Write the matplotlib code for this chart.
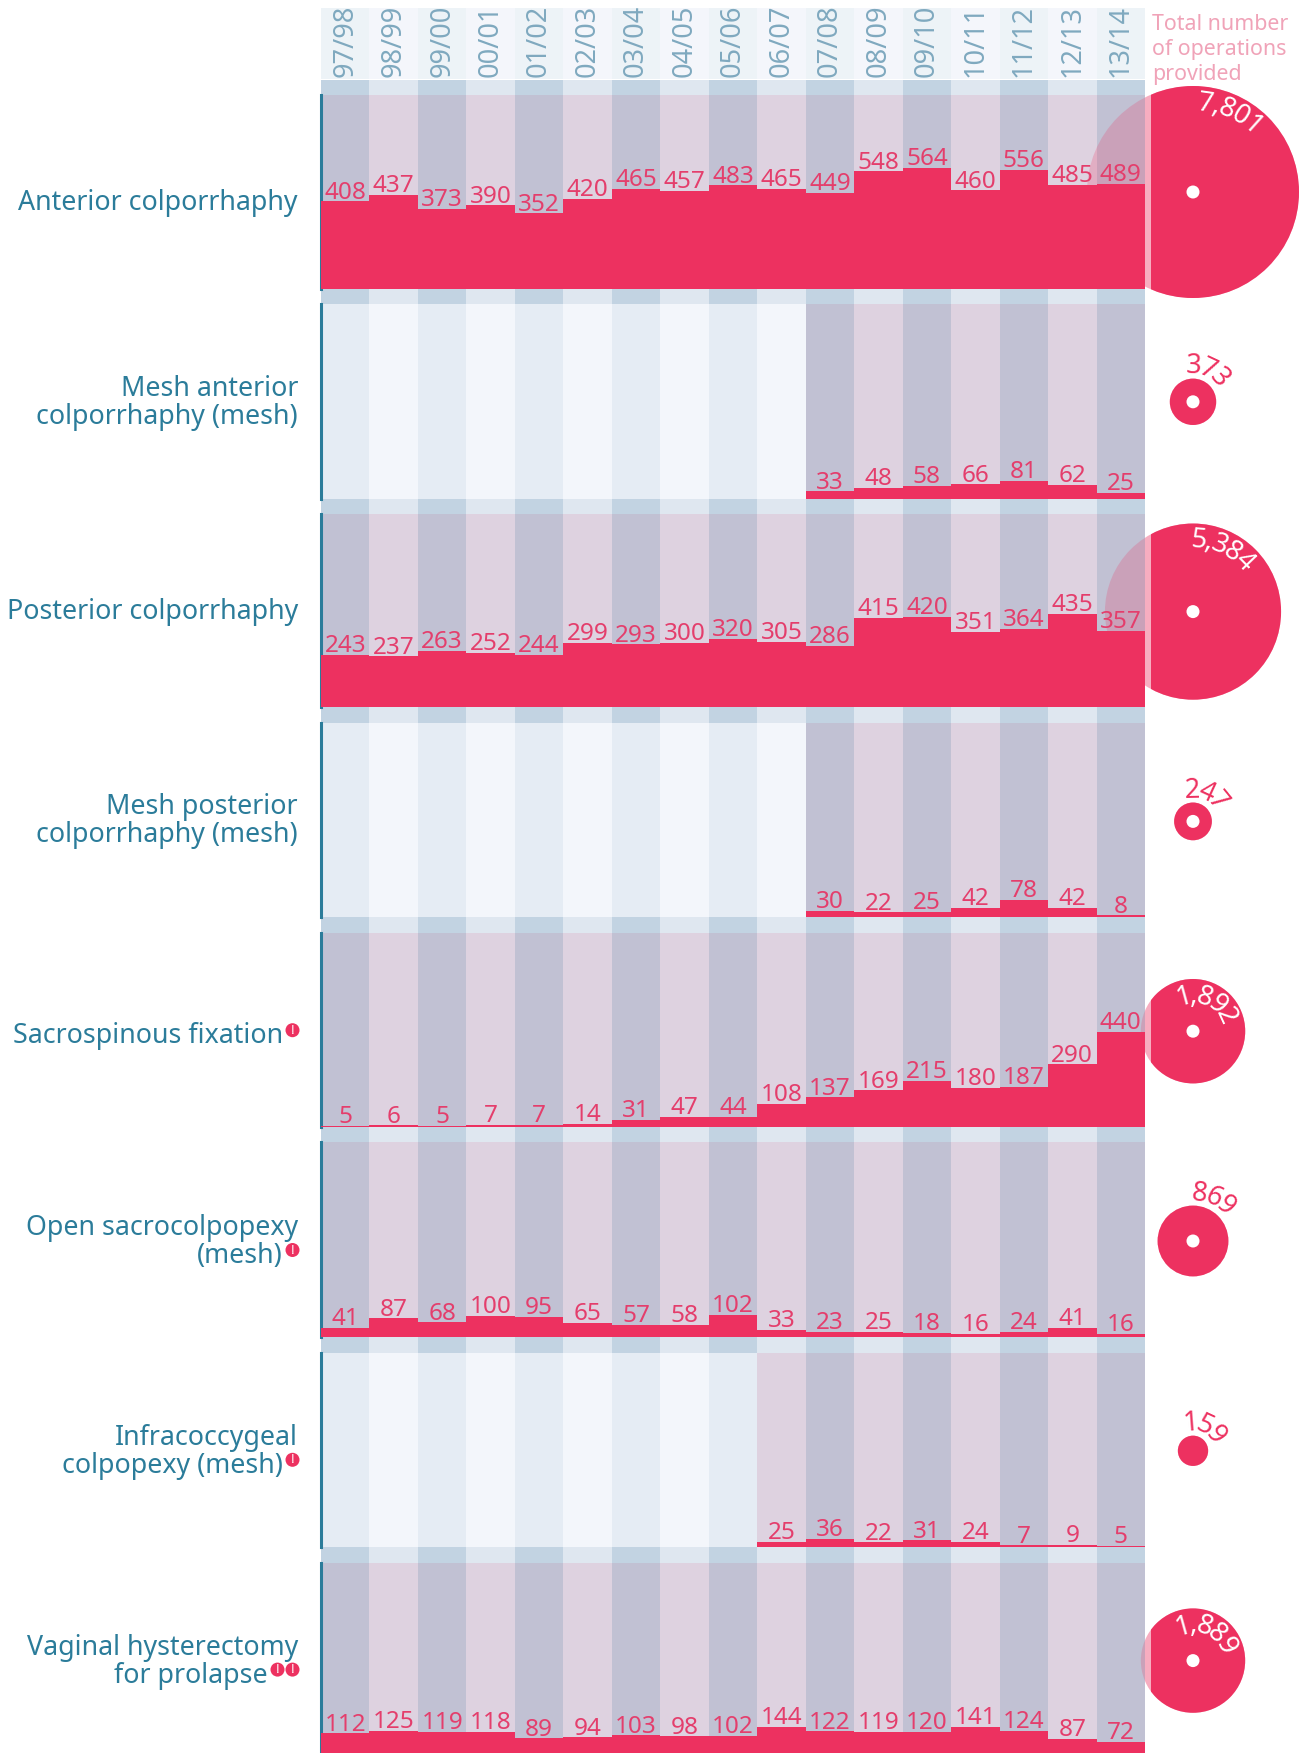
import math
import matplotlib
matplotlib.use("Agg")
import matplotlib.pyplot as plt
from matplotlib.font_manager import FontProperties
from matplotlib.patches import Circle, Rectangle

plt.rcParams['font.family'] = ['Noto Sans', 'DejaVu Sans']

years = ["97/98","98/99","99/00","00/01","01/02","02/03","03/04","04/05","05/06","06/07","07/08","08/09","09/10","10/11","11/12","12/13","13/14"]
names = ["Anterior colporrhaphy", "Mesh anterior\ncolporrhaphy (mesh)", "Posterior colporrhaphy",
         "Mesh posterior\ncolporrhaphy (mesh)", "Sacrospinous fixation", "Open sacrocolpopexy\n(mesh)",
         "Infracoccygeal\ncolpopexy (mesh)", "Vaginal hysterectomy\nfor prolapse"]
flags = [0, 0, 0, 0, 1, 1, 1, 2]
totals = [7801, 373, 5384, 247, 1892, 869, 159, 1889]
anterior = [408,437,373,390,352,420,465,457,483,465,449,548,564,460,556,485,489]
mesh_anterior = [None]*10 + [33,48,58,66,81,62,25]
posterior = [243,237,263,252,244,299,293,300,320,305,286,415,420,351,364,435,357]
mesh_posterior = [None]*10 + [30,22,25,42,78,42,8]
sacrospinous = [5,6,5,7,7,14,31,47,44,108,137,169,215,180,187,290,440]
open_sacro = [41,87,68,100,95,65,57,58,102,33,23,25,18,16,24,41,16]
infracoccygeal = [None]*9 + [25,36,22,31,24,7,9,5]
vaginal = [112,125,119,118,89,94,103,98,102,144,122,119,120,141,124,87,72]
series = [anterior, mesh_anterior, posterior, mesh_posterior, sacrospinous, open_sacro, infracoccygeal, vaginal]

W, H = 1306, 1753
L, R_ = 321, 1145
BASELINES = [289, 498.5, 707.3, 917, 1126.7, 1337, 1547, 1757.5]
BAND = 15.5
PX_PER_UNIT = 0.2146
RED, TEAL = '#ED3160', '#2B7C9A'
fig = plt.figure(figsize=(W/100, H/100), dpi=100, facecolor='white')

base = fig.add_axes([0, 0, 1, 1], zorder=0)
base.set_xlim(0, W); base.set_ylim(H, 0); base.axis('off')
top = fig.add_axes([0, 0, 1, 1], zorder=20)
top.set_xlim(0, W); top.set_ylim(H, 0); top.axis('off'); top.patch.set_alpha(0)
renderer = fig.canvas.get_renderer()

cw = (R_ - L) / 17
for i, y in enumerate(years):
    x0 = L + i*cw
    base.add_patch(Rectangle((x0, 8), cw, 71, fc='#EDF3F7' if i % 2 == 0 else '#F4F6FB', ec='none'))
    base.text(x0 + cw/2, 76.5, y, rotation=90, ha='center', va='bottom', color='#7FA9BF', fontsize=19.5)
for k, line in enumerate(["Total number", "of operations", "provided"]):
    base.text(1152, 29.5 + k*25.3, line, color='#F0A3B8', fontsize=15.4, va='baseline', ha='left')

label_offsets = [11, 1, 0, 0, 5, 1, 1, 1]
fs_total = 19.5
prop_total = FontProperties(family='Noto Sans', size=fs_total)

def adv(s):
    return renderer.get_text_width_height_descent(s, prop_total, False)[0] if s else 0

for p, vals in enumerate(series):
    pbot = BASELINES[p]
    ptop = 95 if p == 0 else BASELINES[p-1] + BAND
    bandtop = ptop - BAND
    for i in range(17):
        x0 = L + i*cw
        base.add_patch(Rectangle((x0, bandtop), cw, BAND, fc='#C2D3E2' if i % 2 == 0 else '#DFE7F0', ec='none'))
    ph = pbot - ptop
    ax = fig.add_axes([L/W, 1-pbot/H, (R_-L)/W, ph/H], zorder=5+p)
    ax.patch.set_alpha(0)
    ax.set_xlim(-0.5, 16.5); ax.set_ylim(0, ph/PX_PER_UNIT)
    ax.set_xticks([]); ax.set_yticks([])
    for s in ['top', 'right', 'bottom']:
        ax.spines[s].set_visible(False)
    ax.spines['left'].set_color(TEAL); ax.spines['left'].set_linewidth(2.2)
    for i, v in enumerate(vals):
        if v is None:
            c = '#E5ECF4' if i % 2 == 0 else '#F3F6FB'
        else:
            c = '#C1C1D3' if i % 2 == 0 else '#DED2E0'
        ax.axvspan(i-0.5, i+0.5, fc=c, ec='none', zorder=1)
    xs = [i for i, v in enumerate(vals) if v is not None]
    hs = [v for v in vals if v is not None]
    ax.bar(xs, hs, width=1.0, color=RED, zorder=3, linewidth=0)
    for x, v in zip(xs, hs):
        ax.annotate(str(v), (x, v), xytext=(0, 2), textcoords='offset points', ha='center', va='baseline',
                    color='#E43E6C', fontsize=17.5, zorder=5, annotation_clip=False)

    cy = 192 + p*209.8
    cx = 1193
    r = 106 * math.sqrt(totals[p] / totals[0])
    ax.add_patch(Circle((cx, cy), r, fc=RED, ec='none', alpha=0.22, transform=base.transData, zorder=2, clip_on=False))
    base.add_patch(Circle((cx, cy), r, fc=RED, ec='none', alpha=0.22, zorder=1))
    solid = Circle((cx, cy), r, fc=RED, ec='none', transform=top.transData)
    top.add_patch(solid)
    solid.set_clip_path(Rectangle((1151, 0), 200, H, transform=top.transData))
    if r > 16:
        top.add_patch(Circle((cx, cy), 6.5, fc='white', ec='none'))

    txt = f"{totals[p]:,}"
    if r > 45:
        tr, tcol = r - 24, 'white'
    else:
        tr, tcol = r + 5, RED
    total_w = adv(txt)
    for k, ch in enumerate(txt):
        mid = adv(txt[:k]) + adv(ch)/2
        ang = math.radians(25) + (mid - total_w/2) / (tr + 10)
        tx = cx + tr*math.sin(ang); ty = cy - tr*math.cos(ang)
        top.text(tx, ty, ch, color=tcol, fontsize=fs_total, ha='center', va='baseline',
                 rotation=-math.degrees(ang), rotation_mode='anchor')

    lines = names[p].split("\n")
    cyl = cy + label_offsets[p] - (len(lines)-1)*14
    for j, line in enumerate(lines):
        last = j == len(lines)-1
        xr = 298 - (15 if last and flags[p] == 1 else 30 if last and flags[p] == 2 else 0)
        base.text(xr, cyl + j*28, line, ha='right', va='center', color=TEAL, fontsize=19.3)
    for n in range(flags[p]):
        bx = 292.5 - (flags[p]-1-n)*15
        by = cyl + (len(lines)-1)*28 - 6
        base.add_patch(Circle((bx, by), 7, fc=RED, ec='none'))
        base.text(bx, by, "!", color='white', fontsize=9.5, fontweight='bold', ha='center', va='center')

fig.savefig('out.png', dpi=100)
